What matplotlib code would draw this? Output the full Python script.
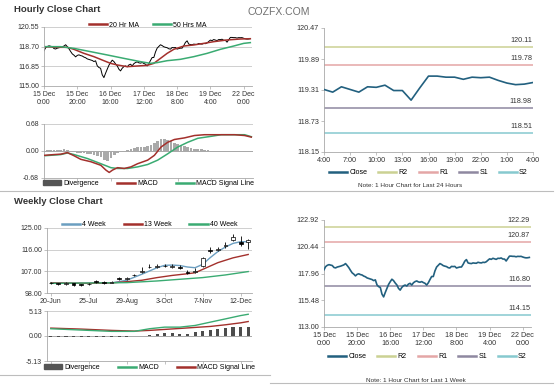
import matplotlib
matplotlib.use("Agg")
import matplotlib.pyplot as plt
from matplotlib.patches import Patch
from matplotlib.lines import Line2D

plt.rcParams['font.family'] = ['Liberation Sans', 'DejaVu Sans']

# ---------------- dados ----------------
# fechamento horario 15 Dec 0:00 -> 21/22 Dec (primeiras 100 horas)
hourly_close_a = [118.31, 118.60, 118.72, 118.78, 118.74, 118.70, 118.52, 118.48, 118.56, 118.60,
                  118.64, 118.70, 118.76, 118.88, 118.70, 118.50, 118.25, 118.02, 117.90, 117.74,
                  117.88, 117.93, 117.86, 117.82, 117.72, 117.66, 117.55, 117.50, 117.45, 117.40,
                  117.30, 117.37, 116.90, 116.74, 116.67, 116.05, 115.79, 116.20, 116.58, 116.95,
                  117.20, 117.43, 117.30, 117.08, 116.90, 116.58, 116.42, 116.67, 116.82, 116.89,
                  116.80, 116.98, 117.05, 116.89, 117.10, 117.21, 117.27, 117.18, 117.15, 117.21,
                  117.12, 117.05, 116.89, 117.10, 117.40, 117.68, 117.68, 118.20, 118.56, 118.72,
                  118.88, 118.80, 118.69, 118.64, 118.60, 118.50, 118.47, 118.62, 118.60, 118.62,
                  118.47, 118.52, 118.56, 118.56, 118.80, 119.10, 119.25, 118.94, 118.90, 118.88,
                  118.94, 118.92, 118.91, 119.00, 118.96, 118.94, 119.00, 118.98, 119.05, 119.19]
# ultimas 24 horas (4:00 -> 4:00)
day_close = [119.32, 119.27, 119.37, 119.32, 119.27, 119.37, 119.36, 119.40, 119.30, 119.30,
             119.12, 119.35, 119.57, 119.57, 119.55, 119.55, 119.51, 119.55, 119.54, 119.55,
             119.49, 119.44, 119.41, 119.42, 119.45]
hourly_close = hourly_close_a + day_close

week_tick_labels = ['15 Dec\n0:00', '15 Dec\n20:00', '16 Dec\n16:00', '17 Dec\n12:00',
                    '18 Dec\n8:00', '19 Dec\n4:00', '22 Dec\n0:00']
day_tick_labels = ['4:00', '7:00', '10:00', '13:00', '16:00', '19:00', '22:00', '1:00', '4:00']

ma20_h = [0, 8, 14, 18, 24, 30, 36, 40, 44, 50, 56, 62, 66, 70, 74, 78, 84, 90, 96, 102, 110, 118, 124]
ma20_v = [118.70, 118.64, 118.64, 118.45, 118.07, 117.76, 117.38, 117.13, 116.98, 116.82, 116.88, 116.94,
          117.13, 117.60, 118.07, 118.45, 118.76, 118.86, 119.01, 119.17, 119.33, 119.42, 119.45]
ma50_h = [0, 10, 18, 28, 38, 48, 58, 64, 68, 74, 82, 90, 98, 106, 114, 120, 124]
ma50_v = [118.70, 118.70, 118.54, 118.23, 117.92, 117.60, 117.29, 117.13, 117.20, 117.38, 117.51,
          117.76, 118.07, 118.45, 118.76, 119.01, 119.08]

macd_h = [0, 6, 10, 14, 18, 22, 28, 34, 37, 39, 41, 44, 48, 52, 56, 62, 66, 70, 74, 78, 84, 90, 96,
          102, 108, 114, 120, 124]
macd_v = [-0.11, -0.09, -0.08, -0.04, -0.12, -0.21, -0.27, -0.36, -0.48, -0.54, -0.48, -0.42, -0.44,
          -0.40, -0.32, -0.23, -0.11, 0.10, 0.22, 0.29, 0.33, 0.39, 0.41, 0.41, 0.41, 0.41, 0.39, 0.35]
sig_h = [0, 10, 14, 18, 26, 34, 40, 44, 50, 56, 62, 68, 74, 80, 86, 92, 100, 106, 114, 120, 124]
sig_v = [-0.12, -0.09, -0.05, -0.09, -0.19, -0.32, -0.42, -0.44, -0.44, -0.40, -0.34, -0.23, -0.07,
         0.10, 0.22, 0.32, 0.37, 0.41, 0.41, 0.41, 0.36]
# divergencia a cada 2 horas
div_v = [0.01, 0.02, 0.02, 0.02, 0.03, 0.03, 0.04, 0.03, 0.00, -0.02,
         -0.04, -0.05, -0.06, -0.07, -0.08, -0.10, -0.12, -0.16, -0.22, -0.25,
         -0.18, -0.10, -0.05, -0.03, 0.00, 0.02, 0.05, 0.08, 0.09, 0.10,
         0.11, 0.12, 0.15, 0.20, 0.26, 0.30, 0.29, 0.27, 0.24, 0.20,
         0.17, 0.14, 0.12, 0.10, 0.08, 0.06, 0.05, 0.04, 0.03, 0.02,
         0.01, 0.01, 0.00, 0.01, 0.00, 0.00, 0.01, 0.00, -0.01, -0.01,
         0.00, -0.01, -0.02]

levels_day = {'R2': 120.11, 'R1': 119.78, 'S1': 118.98, 'S2': 118.51}
levels_week = {'R2': 122.29, 'R1': 120.87, 'S1': 116.80, 'S2': 114.15}

# semanal 20-Jun -> 19-Dec
w_open = [102.3, 102.0, 101.8, 102.0, 101.7, 101.6, 102.9, 102.4, 102.3, 104.3, 103.9, 105.6, 106.9,
          108.6, 109.0, 109.1, 108.9, 108.8, 106.9, 106.8, 109.2, 115.9, 116.0, 117.4, 119.9, 119.3, 119.3]
w_close = [102.1, 101.7, 102.2, 101.4, 101.5, 101.9, 102.6, 102.3, 102.5, 104.0, 104.2, 105.3, 107.3,
           109.0, 109.3, 109.4, 109.2, 108.3, 106.5, 107.2, 112.6, 115.3, 116.4, 117.8, 121.3, 118.5, 120.2]
w_high = [102.6, 102.3, 102.5, 102.3, 101.9, 102.2, 103.3, 102.8, 102.9, 104.8, 104.6, 106.0, 108.6,
          110.2, 110.1, 110.0, 110.0, 109.6, 107.6, 108.2, 113.0, 117.0, 117.3, 119.0, 122.6, 121.7, 120.6]
w_low = [101.7, 101.3, 101.5, 100.9, 101.1, 101.3, 102.2, 101.9, 102.0, 103.6, 103.5, 104.9, 106.5,
         108.2, 108.5, 108.6, 108.4, 107.8, 105.8, 106.2, 108.8, 114.6, 115.5, 116.9, 119.5, 117.5, 116.1]
w_labels = ['20-Jun', '25-Jul', '29-Aug', '3-Oct', '7-Nov', '12-Dec']

ma4_w = [0, 4, 8, 10, 12, 14, 15, 16, 17, 18, 19, 20, 21, 22, 23, 24, 25, 26]
ma4_v = [102.3, 102.0, 102.2, 103.3, 105.8, 108.5, 109.5, 109.6, 109.4, 108.8, 108.5, 109.9, 112.7,
         115.2, 117.1, 118.6, 119.3, 119.3]
ma13_w = [0, 5, 8, 10, 12, 14, 16, 18, 19, 20, 22, 24, 26]
ma13_v = [102.2, 102.0, 102.2, 102.7, 103.3, 104.4, 105.3, 106.0, 106.4, 107.8, 110.6, 112.6, 114.0]
ma40_w = [0, 10, 14, 17, 20, 23, 26]
ma40_v = [102.0, 102.3, 103.0, 103.7, 104.4, 105.5, 106.9]

wmacd_w = [0, 4, 8, 11, 13, 15, 17, 19, 21, 23, 25, 26]
wmacd_v = [1.49, 1.22, 0.95, 0.95, 1.49, 1.82, 1.82, 2.16, 2.84, 3.51, 4.19, 4.46]
wsig_v = [1.62, 1.42, 1.15, 1.01, 1.15, 1.35, 1.55, 1.76, 1.96, 2.30, 2.70, 2.97]
wdiv_v = [-0.2, -0.2, -0.2, -0.2, -0.2, -0.2, -0.2, -0.2, -0.2, -0.15, -0.12, -0.08, 0.05, 0.2, 0.4,
          0.6, 0.55, 0.4, 0.47, 0.74, 0.95, 1.28, 1.42, 1.62, 1.76, 1.82, 1.82]

# ---------------- estilo ----------------
RED = '#a3302c'
GREEN = '#3aab72'
CLOSE = '#22607f'
BLUE = '#6b9ec0'
LVL_COLORS = {'R2': '#cbd193', 'R1': '#e4a6a6', 'S1': '#8e88a0', 'S2': '#86c9cf'}
GRID = '#c8c8c8'
SP = '#a8a8a8'
FS = 5


def style(ax):
    for s in ['top', 'right']:
        ax.spines[s].set_visible(False)
    for s in ['left', 'bottom']:
        ax.spines[s].set_color(SP)
        ax.spines[s].set_linewidth(0.6)
    ax.tick_params(labelsize=FS, colors='#333333', length=2, width=0.5, pad=1.5)
    ax.tick_params(color=SP)


def legend(ax, handles, y, loc, ncol, colsp=2.0):
    ax.legend(handles=handles, loc=loc, bbox_to_anchor=(0.5, y), ncol=ncol, fontsize=FS,
              frameon=False, handlelength=2.6, handletextpad=0.3, columnspacing=colsp,
              borderpad=0, borderaxespad=0)


fig = plt.figure(figsize=(5.6, 3.85), dpi=100)
W, H = 560.0, 385.0


def box(l, r, t, b):
    return [l / W, 1 - b / H, (r - l) / W, (b - t) / H]


fig.text(14 / W, 1 - 10 / H, 'Hourly Close Chart', fontsize=6.8, fontweight='bold', color='#333333', va='center')
fig.text(14 / W, 1 - 202 / H, 'Weekly Close Chart', fontsize=6.8, fontweight='bold', color='#333333', va='center')
fig.text(247 / W, 1 - 12 / H, 'COZFX.COM', fontsize=7.5, color='#707070', va='center')

# separadores
fig.add_artist(Line2D([0, 553 / W], [1 - 191 / H] * 2, color='#bdbdbd', lw=0.8, transform=fig.transFigure))
fig.add_artist(Line2D([0, 270 / W], [1 - 375 / H] * 2, color='#bdbdbd', lw=0.8, transform=fig.transFigure))
fig.add_artist(Line2D([270 / W, 553 / W], [1 - 383 / H] * 2, color='#bdbdbd', lw=0.8, transform=fig.transFigure))

hours = list(range(len(hourly_close)))
week_ticks = [0, 20, 40, 60, 80, 100, 120]

# ---- 1) hourly close + MAs
ax1 = fig.add_axes(box(44, 252, 27, 86))
style(ax1)
ax1.plot(hours, hourly_close, color='black', lw=0.7)
ax1.plot(ma20_h, ma20_v, color=RED, lw=1.1)
ax1.plot(ma50_h, ma50_v, color=GREEN, lw=1.1)
ax1.set_xlim(0, 125)
ax1.set_ylim(115.0, 120.55)
yt = [115.00, 116.85, 118.70, 120.55]
ax1.set_yticks(yt, [f'{v:.2f}' for v in yt])
ax1.set_xticks(week_ticks, week_tick_labels)
for v in yt[1:]:
    ax1.axhline(v, color=GRID, lw=0.6, zorder=0)
legend(ax1, [Line2D([], [], color=RED, lw=1.8, label='20 Hr MA'),
             Line2D([], [], color=GREEN, lw=1.8, label='50 Hrs MA')], 0.97, 'lower center', 2)

# ---- 2) hourly MACD
ax2 = fig.add_axes(box(44, 253, 124, 178))
style(ax2)
ax2.bar(list(range(0, 125, 2)), div_v, width=1.6, color='#a9a9a9', zorder=1)
ax2.plot(macd_h, macd_v, color=RED, lw=1.1, zorder=3)
ax2.plot(sig_h, sig_v, color=GREEN, lw=1.1, zorder=2)
ax2.set_xlim(0, 125)
ax2.set_ylim(-0.68, 0.68)
ax2.set_yticks([-0.68, 0, 0.68], ['-0.68', '0.00', '0.68'])
ax2.set_xticks(week_ticks, [''] * 7)
ax2.axhline(0.68, color=GRID, lw=0.6, zorder=0)
ax2.axhline(0, color='#999999', lw=0.6, zorder=0)
legend(ax2, [Patch(color='#555555', label='Divergence'),
             Line2D([], [], color=RED, lw=1.8, label='MACD'),
             Line2D([], [], color=GREEN, lw=1.8, label='MACD Signal Line')], -0.04, 'upper center', 3, 2.6)


def levels_chart(ax, x, y, levels, ylim, yt):
    style(ax)
    ax.plot(x, y, color=CLOSE, lw=1.2, zorder=3)
    handles = [Line2D([], [], color=CLOSE, lw=1.8, label='Close')]
    for name, val in levels.items():
        ax.axhline(val, color=LVL_COLORS[name], lw=1.1, zorder=2)
        ax.annotate(f'{val:.2f}', (0.995, val), xycoords=('axes fraction', 'data'),
                    xytext=(0, 2), textcoords='offset points', ha='right', va='bottom',
                    fontsize=5.2, color='#333333')
        handles.append(Line2D([], [], color=LVL_COLORS[name], lw=1.8, label=name))
    ax.set_ylim(*ylim)
    ax.set_yticks(yt, [f'{v:.2f}' for v in yt])
    return handles


# ---- 3) last 24 hours
ax3 = fig.add_axes(box(324, 533, 28, 152))
h3 = levels_chart(ax3, list(range(len(day_close))), day_close, levels_day, (118.15, 120.47),
                  [118.15, 118.73, 119.31, 119.89, 120.47])
ax3.set_xlim(0, 24)
ax3.set_xticks(list(range(0, 25, 3)), day_tick_labels)
ax3.tick_params(axis='both', labelsize=5.2)
legend(ax3, h3, -0.14, 'upper center', 5, 1.6)
fig.text(410 / W, 1 - 185 / H, 'Note: 1 Hour Chart for Last 24 Hours', fontsize=4.6, color='#333333',
         ha='center', va='center')

# ---- 4) last week hourly
ax4 = fig.add_axes(box(324, 531, 220, 327))
h4 = levels_chart(ax4, hours, hourly_close, levels_week, (113.0, 122.92),
                  [113.00, 115.48, 117.96, 120.44, 122.92])
ax4.set_xlim(0, 125)
ax4.set_xticks(week_ticks, week_tick_labels)
ax4.tick_params(axis='both', labelsize=5.2)
legend(ax4, h4, -0.245, 'upper center', 5, 1.6)
fig.text(416 / W, 1 - 380 / H, 'Note: 1 Hour Chart for Last 1 Week', fontsize=4.6, color='#333333',
         ha='center', va='center')

# ---- 5) weekly candles
ax5 = fig.add_axes(box(47, 252, 228, 293))
style(ax5)
weeks = list(range(len(w_close)))
for v in [107, 116, 125]:
    ax5.axhline(v, color=GRID, lw=0.6, zorder=0)
ax5.plot(ma4_w, ma4_v, color=BLUE, lw=1.0, zorder=2)
ax5.plot(ma13_w, ma13_v, color=RED, lw=1.0, zorder=2)
ax5.plot(ma40_w, ma40_v, color=GREEN, lw=1.0, zorder=2)
ax5.vlines(weeks, w_low, w_high, color='black', lw=0.6, zorder=3)
for i in weeks:
    o, c = w_open[i], w_close[i]
    ax5.bar(i, max(abs(c - o), 0.25), bottom=min(o, c), width=0.5,
            color='white' if c > o else 'black', edgecolor='black', lw=0.5, zorder=4)
ax5.set_xlim(-0.5, 26.5)
ax5.set_ylim(98, 125)
ax5.set_yticks([98, 107, 116, 125], ['98.00', '107.00', '116.00', '125.00'])
ax5.set_xticks([0, 5, 10, 15, 20, 25], w_labels)
legend(ax5, [Line2D([], [], color=BLUE, lw=1.8, label='4 Week'),
             Line2D([], [], color=RED, lw=1.8, label='13 Week'),
             Line2D([], [], color=GREEN, lw=1.8, label='40 Week')], 1.0, 'lower center', 3, 2.6)

# ---- 6) weekly MACD
ax6 = fig.add_axes(box(47, 252, 311, 361))
style(ax6)
ax6.bar(weeks, wdiv_v, width=0.4, color='#4d4d4d', zorder=1)
ax6.plot(wmacd_w, wmacd_v, color=GREEN, lw=1.0, zorder=3)
ax6.plot(wmacd_w, wsig_v, color=RED, lw=1.0, zorder=2)
ax6.axhline(5.13, color=GRID, lw=0.6, zorder=0)
ax6.axhline(0, color='#999999', lw=0.6, zorder=0)
ax6.set_xlim(-0.5, 26.5)
ax6.set_ylim(-5.13, 5.13)
ax6.set_yticks([-5.13, 0, 5.13], ['-5.13', '0.00', '5.13'])
ax6.set_xticks([0, 5, 10, 15, 20, 25], [''] * 6)
legend(ax6, [Patch(color='#555555', label='Divergence'),
             Line2D([], [], color=GREEN, lw=1.8, label='MACD'),
             Line2D([], [], color=RED, lw=1.8, label='MACD Signal Line')], -0.06, 'upper center', 3, 2.6)

fig.savefig('out.png', dpi=100)
